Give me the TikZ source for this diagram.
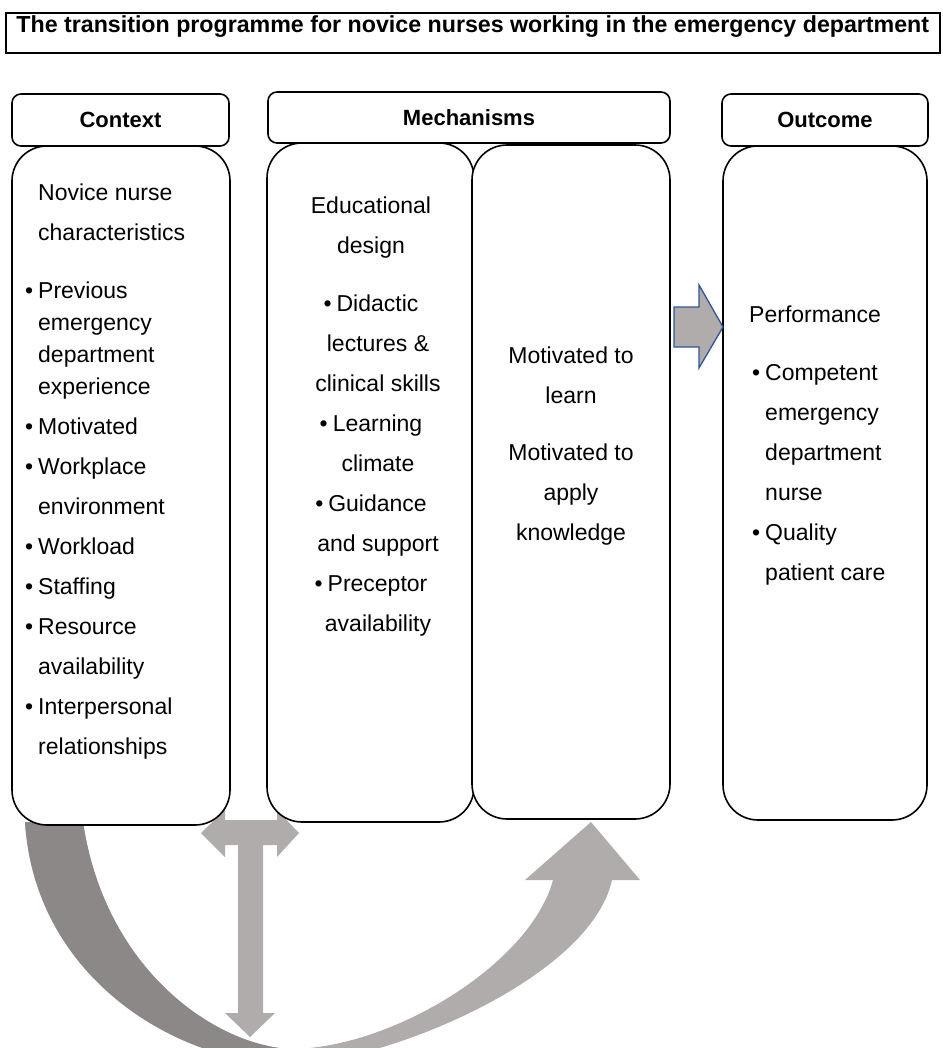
\documentclass[tikz,border=0pt]{standalone}
\usepackage{fontspec}
\setmainfont{Liberation Sans}
\definecolor{darkarr}{HTML}{8B8887}
\definecolor{lightarr}{HTML}{AFACAB}
\definecolor{arrblue}{HTML}{2F5597}
\tikzset{
  hdrbox/.style={draw, line width=1.6pt, rounded corners=9pt, fill=white,
    font=\fontsize{22}{26}\selectfont\bfseries, text height=16pt, text depth=0pt},
  bodybox/.style={draw, line width=1.6pt, rounded corners=35pt, fill=white},
  coltext/.style={font=\fontsize{23}{40}\selectfont, inner sep=0pt},
}
\newcommand{\fst}{\rule{0pt}{18pt}}
\newcommand{\itm}{\llap{\textbullet\hspace{5pt}}}
\newcommand{\cind}{\hspace*{14pt}}
\newcommand{\oind}{\hspace*{16pt}}

\begin{document}
\begin{tikzpicture}[x=1pt,y=-1pt]
    \clip (0,0) rectangle (942,1048);
    % curved arrow from context round to mechanisms
    \fill[lightarr] (25,822) .. controls (35,980) and (180,1064) .. (290,1064)
        .. controls (380,1064) and (590,980) .. (612,880) -- (640,880) -- (591,822) -- (525,880) -- (553,880)
        .. controls (530,965) and (390,1049) .. (290,1049) .. controls (215,1045) and (105,970) .. (83,822) -- cycle;
    \begin{scope}
        \clip (0,800) rectangle (290,1048);
        \fill[darkarr] (25,822) .. controls (35,980) and (180,1064) .. (290,1064)
            .. controls (380,1064) and (590,980) .. (612,880) -- (640,880) -- (591,822) -- (525,880) -- (553,880)
            .. controls (530,965) and (390,1049) .. (290,1049) .. controls (215,1045) and (105,970) .. (83,822) -- cycle;
    \end{scope}
    % T shaped arrow between the boxes
    \fill[lightarr] (201,833) -- (225,810) -- (225,820) -- (277,820) -- (277,810) -- (299,833) -- (277,857)
        -- (277,845) -- (263,845) -- (263,1013) -- (275,1013) -- (250,1037) -- (225,1013) -- (238,1013)
        -- (238,845) -- (225,845) -- (225,857) -- cycle;

    \node[draw, line width=1.6pt, anchor=north west, minimum width=934pt, inner ysep=0pt,
        text height=19.5pt, text depth=20.5pt, font=\fontsize{23.2}{28}\selectfont\bfseries] (title) at (5,12)
        {The transition programme for novice nurses working in the emergency department};

    \node[bodybox, minimum width=218pt, minimum height=679pt] (ctxbody) at (121,485.5) {};
    \node[bodybox, minimum width=207pt, minimum height=679pt] (mechl) at (370.5,482.5) {};
    \node[bodybox, minimum width=198pt, minimum height=674pt] (mechr) at (571,482) {};
    \node[bodybox, minimum width=204pt, minimum height=674pt] (outbody) at (825,483) {};

    \node[hdrbox, minimum width=217pt, minimum height=52pt] (ctxhead) at (120.5,120) {Context};
    \node[hdrbox, minimum width=402pt, minimum height=51pt] (mechhead) at (469,117.5) {Mechanisms};
    \node[hdrbox, minimum width=206pt, minimum height=52pt] (outhead) at (825,120) {Outcome};

    \node[coltext, anchor=north west, align=left] (ctxtext) at (38,182) {\fst Novice nurse\\
        characteristics\\[18pt]
        \itm Previous\\[-8pt]
        emergency\\[-8pt]
        department\\[-8pt]
        experience\\
        \itm Motivated\\
        \itm Workplace\\
        environment\\
        \itm Workload\\
        \itm Staffing\\
        \itm Resource\\
        availability\\
        \itm Interpersonal\\
        relationships};
    \node[coltext, anchor=north, align=center] (mechltext) at (371,195) {\fst Educational\\
        design\\[18pt]
        \textbullet\hspace{5pt}Didactic\\
        \cind lectures \&\\
        \cind clinical skills\\
        \textbullet\hspace{5pt}Learning\\
        \cind climate\\
        \textbullet\hspace{5pt}Guidance\\
        \cind and support\\
        \textbullet\hspace{5pt}Preceptor\\
        \cind availability};
    \node[coltext, anchor=north, align=center] (mechrtext) at (571,345) {\fst Motivated to\\
        learn\\[17pt]
        Motivated to\\
        apply\\
        knowledge};
    \node[coltext, anchor=north west, align=left] (outtext) at (749,304) {\fst Performance\\[18pt]
        \oind\itm Competent\\
        \oind emergency\\
        \oind department\\
        \oind nurse\\
        \oind\itm Quality\\
        \oind patient care};

    % block arrow towards the outcome
    \draw[arrblue, line width=1.3pt, fill=lightarr] (674,307) -- (699,307) -- (699,285) -- (723,327)
        -- (699,368) -- (699,347) -- (674,347) -- cycle;
\end{tikzpicture}
\end{document}
